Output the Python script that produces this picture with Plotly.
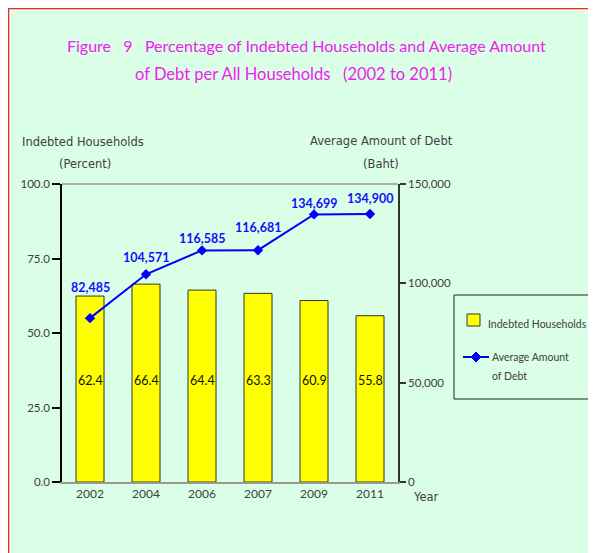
import plotly.graph_objects as go

years = ["2002", "2004", "2006", "2007", "2009", "2011"]
indebted_pct = [62.4, 66.4, 64.4, 63.3, 60.9, 55.8]
avg_debt = [82485, 104571, 116585, 116681, 134699, 134900]
debt_labels = ["82,485", "104,571", "116,585", "116,681", "134,699", "134,900"]
label_shift = [31, 17, 12, 23, 11, 16]

xpos = list(range(len(years)))  # category slots on the x axis

# page is rendered with an 8px body margin; positions below are in page pixels
OFF = 8
W, H = 596 - OFF, 553 - OFF
PL, PR, PT, PB = 62, 398, 184, 482
L, R, T, B = PL - OFF, W - (PR - OFF), PT - OFF, H - (PB - OFF)
pw, ph = W - L - R, H - T - B

def to_px(xp):
    return (xp - PL) / pw

def to_py(yp):
    return (PB - yp) / ph

BG = "#DAFFE6"
FONT = "DejaVu Sans"
NFONT = "Lato"
TFONT = "Lato"
BAR_COLOR = "#FFFF00"
LINE_COLOR = "#0000FF"

fig = go.Figure()
fig.add_trace(go.Bar(
    x=xpos, y=indebted_pct, name="Indebted Households",
    marker=dict(color=BAR_COLOR, line=dict(color="#333333", width=1)),
    width=0.5,
))
fig.add_trace(go.Scatter(
    x=xpos, y=avg_debt, name="Average Amount of Debt", mode="lines+markers",
    line=dict(color=LINE_COLOR, width=2),
    marker=dict(symbol="diamond", size=8, color=LINE_COLOR),
    yaxis="y2",
))

annotations = []
for xi, v in zip(xpos, indebted_pct):
    annotations.append(dict(x=xi, y=34, xref="x", yref="y", text=f"{v:.1f}",
                            showarrow=False, font=dict(size=12.5, color="#111111", family=NFONT)))
for xi, v, t, s in zip(xpos, avg_debt, debt_labels, label_shift):
    annotations.append(dict(x=xi, y=v, xref="x", yref="y2", text=f"<b>{t}</b>", yshift=s,
                            showarrow=False, font=dict(size=12.5, color="#1010FF", family=NFONT)))

texts = [
    ("Figure\u00a0\u00a0\u00a09\u00a0\u00a0\u00a0Percentage of Indebted Households and Average Amount", 306, 46, 16, "#F020F0", TFONT, "center"),
    ("of Debt per All Households\u00a0\u00a0\u00a0(2002 to 2011)", 293, 74, 16.5, "#F020F0", TFONT, "center"),
    ("Indebted Households", 83, 142, 11.5, "#404040", FONT, "center"),
    ("(Percent)", 85, 164, 11.5, "#404040", FONT, "center"),
    ("Average Amount of Debt", 381, 141, 11.5, "#404040", FONT, "center"),
    ("(Baht)", 381, 164, 11.5, "#404040", FONT, "center"),
    ("Year", 426, 497, 11.5, "#404040", FONT, "center"),
    # legend entries
    ("Indebted Households", 486, 324, 10.5, "#404040", NFONT, "left"),
    ("Average Amount", 490, 357, 10.5, "#404040", NFONT, "left"),
    ("of Debt", 490, 376, 10.5, "#404040", NFONT, "left"),
]
for t, xp, yp, s, c, f, a in texts:
    annotations.append(dict(x=to_px(xp), y=to_py(yp), xref="paper", yref="paper", text=t,
                            showarrow=False, xanchor=a, yanchor="middle",
                            font=dict(size=s, color=c, family=f)))

def rect(x0, y0, x1, y1, **kw):
    return dict(type="rect", xref="paper", yref="paper",
                x0=to_px(x0), x1=to_px(x1), y0=to_py(y1), y1=to_py(y0), **kw)

dx, dy = 5 / pw, 5 / ph
cx, cy = to_px(476), to_py(357)
shapes = [
    rect(8.5, 8.5, 700, 700, fillcolor=BG, line=dict(color="#FF2020", width=1.5), layer="below"),
    dict(type="line", xref="paper", yref="paper", x0=0, x1=1, y0=1, y1=1,
         line=dict(color="#999999", width=1.5)),
    # legend box and glyphs
    rect(454, 295, 590, 399, fillcolor=BG, line=dict(color="#222222", width=1)),
    rect(467, 314, 480, 326, fillcolor=BAR_COLOR, line=dict(color="#333333", width=1)),
    dict(type="line", xref="paper", yref="paper", x0=to_px(463), x1=to_px(489), y0=cy, y1=cy,
         line=dict(color=LINE_COLOR, width=2)),
    dict(type="path", xref="paper", yref="paper",
         path=f"M {cx - dx} {cy} L {cx} {cy + dy} L {cx + dx} {cy} L {cx} {cy - dy} Z",
         fillcolor=LINE_COLOR, line=dict(color=LINE_COLOR, width=1)),
]

fig.update_layout(
    width=W, height=H,
    margin=dict(l=L, r=R, t=T, b=B, autoexpand=False),
    paper_bgcolor="white", plot_bgcolor=BG,
    font=dict(family=NFONT, size=11, color="#404040"),
    showlegend=False,
    xaxis=dict(range=[-0.5, len(years) - 0.5], tickvals=xpos, ticktext=years,
               showline=True, linecolor="#999999", linewidth=1.5, ticks="",
               tickfont=dict(size=12, color="#404040", family=NFONT), showgrid=False, zeroline=False),
    yaxis=dict(range=[0, 100], tickvals=[0, 25, 50, 75, 100],
               ticktext=["0.0", "25.0", "50.0", "75.0", "100.0"],
               showline=True, linecolor="#000000", linewidth=1.5,
               ticks="outside", ticklen=8, tickcolor="#000000", tickwidth=1.5,
               showgrid=False, zeroline=False, tickfont=dict(size=11.5, color="#404040", family=NFONT)),
    yaxis2=dict(range=[0, 150000], tickvals=[0, 50000, 100000, 150000],
                ticktext=["0", "50,000", "100,000", "150,000"],
                overlaying="y", side="right", showline=True, linecolor="#333333", linewidth=1.5,
                ticks="outside", ticklen=6, tickcolor="#333333", tickwidth=1.5,
                showgrid=False, zeroline=False, tickfont=dict(size=11.5, color="#404040", family=NFONT)),
    annotations=annotations, shapes=shapes,
)

fig.write_html("out.html")
